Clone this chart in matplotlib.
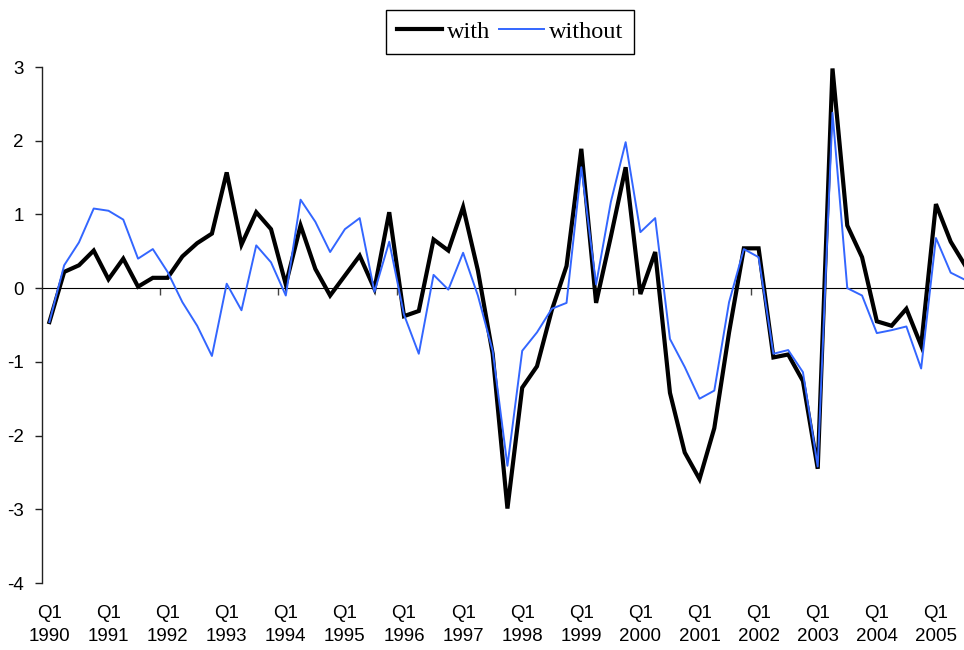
import numpy as np
import matplotlib
matplotlib.use("Agg")
import matplotlib.pyplot as plt

years = list(range(1990, 2006))
tick_labels = [f"Q1\n{y}" for y in years]

with_vals = [
    -0.46, 0.22, 0.31, 0.51, 0.12, 0.40, 0.02, 0.14,   # 1990-1991
    0.14, 0.43, 0.61, 0.74, 1.57, 0.59, 1.03, 0.80,    # 1992-1993
    0.05, 0.85, 0.26, -0.10, 0.17, 0.44, -0.01, 1.03,  # 1994-1995
    -0.38, -0.31, 0.66, 0.51, 1.10, 0.24, -0.89, -2.99, # 1996-1997
    -1.35, -1.06, -0.30, 0.30, 1.89, -0.20, 0.70, 1.64, # 1998-1999
    -0.08, 0.49, -1.42, -2.23, -2.59, -1.90, -0.60, 0.54, # 2000-2001
    0.54, -0.94, -0.90, -1.26, -2.45, 2.98, 0.85, 0.42, # 2002-2003
    -0.45, -0.51, -0.28, -0.78, 1.14, 0.63, 0.30,       # 2004-2005
]
without_vals = [
    -0.46, 0.31, 0.62, 1.08, 1.05, 0.93, 0.40, 0.53,
    0.22, -0.19, -0.51, -0.92, 0.06, -0.30, 0.58, 0.35,
    -0.10, 1.20, 0.90, 0.49, 0.80, 0.95, -0.05, 0.63,
    -0.36, -0.89, 0.18, -0.02, 0.48, -0.10, -0.85, -2.41,
    -0.85, -0.60, -0.28, -0.20, 1.64, 0.05, 1.17, 1.98,
    0.76, 0.95, -0.69, -1.07, -1.50, -1.39, -0.19, 0.53,
    0.42, -0.89, -0.84, -1.14, -2.42, 2.38, 0.00, -0.10,
    -0.61, -0.57, -0.52, -1.09, 0.68, 0.21, 0.11,
]

x = np.arange(len(with_vals))

fig = plt.figure(figsize=(9.64, 6.5), dpi=100)
ax = fig.add_axes([42/964, 1-583/650, 1-42/964, (583-67)/650])

ax.plot(x, with_vals, color="black", lw=3.0, label="with", zorder=3, solid_joinstyle="miter")
ax.plot(x, without_vals, color="#3366FF", lw=1.4, label="without", zorder=4)

ax.set_xlim(-0.5, 61.9)
ax.set_ylim(-4, 3)

for s in ["top", "right", "bottom"]:
    ax.spines[s].set_visible(False)
ax.spines["left"].set_color("#222222")
ax.spines["left"].set_linewidth(1.0)

ax.set_yticks(range(-4, 4))
ax.set_yticklabels([str(v) for v in range(-4, 4)])
ax.tick_params(axis="y", direction="out", length=5, width=1, color="#222222",
               labelsize=13.5, pad=8)

ax.set_xticks(np.arange(0, 61, 4))
ax.set_xticklabels(tick_labels, linespacing=1.45)
ax.tick_params(axis="x", length=0, labelsize=13.5, pad=16)

for lab in ax.get_xticklabels() + ax.get_yticklabels():
    lab.set_fontfamily("Liberation Sans")

# zero axis line with small tick marks
sec = ax.secondary_xaxis(4/7)
sec.spines["bottom"].set_color("#444444")
sec.spines["bottom"].set_linewidth(1.0)
sec.set_xticks(np.arange(7.5, 62, 8))
sec.set_xticklabels([])
sec.tick_params(axis="x", direction="in", length=5, width=1, color="#444444")

leg = fig.legend(loc="upper center", bbox_to_anchor=(510/964, 1-10/650), ncol=2,
                 frameon=True, fancybox=False, edgecolor="black", framealpha=1,
                 prop={"family": "Liberation Serif", "size": 17.5},
                 handlelength=1.85, handletextpad=0.2, columnspacing=0.35,
                 borderpad=0.45, borderaxespad=0)
leg.get_frame().set_linewidth(1.0)

fig.savefig("out.png", dpi=100)
